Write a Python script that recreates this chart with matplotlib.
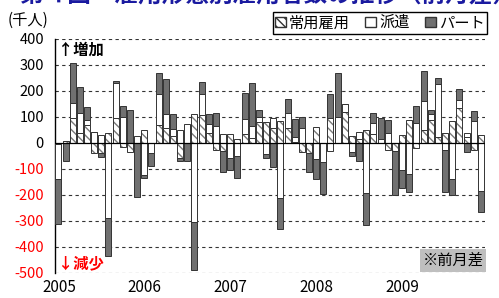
import numpy as np
import matplotlib
matplotlib.use('Agg')
import matplotlib.pyplot as plt
from matplotlib.patches import Patch

plt.rcParams['font.family'] = ['Noto Sans CJK JP', 'DejaVu Sans']

# monthly change (thousand persons), Jan 2005 .. Dec 2009
regular = [-5, 8, 95, 40, 68, -38, -40, 40, 95, -17, -35, 0,
           50, 0, 69, 56, 27, -58, 0, 112, 108, 37, -27, -30,
           35, 15, 35, 18, 80, 80, 56, 85, 59, 5, -33, -40,
           63, 0, 95, 0, 118, 27, 15, 50, 33, 0, -27, -31,
           31, 88, -20, 50, 87, 24, 40, 85, 133, 24, -27, 31]
dispatch = [-133, 0, 58, 75, 22, 42, 30, -290, 135, 99, 0, 27,
            -123, -40, 118, 56, 27, 50, 72, -305, 79, 35, 67, 35,
            -59, -49, 57, 49, 20, -44, 39, -213, 55, 17, 56, 0,
            -62, -72, -31, 101, 31, -36, 29, -191, 44, 15, 37, 0,
            -104, -120, 77, 113, 26, 202, -27, -138, 32, 13, 86, -185]
parttime = [-172, -70, 153, 100, 50, 0, -15, -145, 8, 45, 127, -206,
            -13, -47, 82, 135, 58, -10, -69, -183, 49, 40, 48, -83,
            -45, -84, 100, 162, 27, -12, -92, -119, 55, 69, 45, -73,
            -76, -125, 93, 168, 0, -13, -69, -124, 38, 80, 50, -169,
            -70, -70, 67, 114, 13, 25, -160, -62, 43, -36, 37, -79]

series_names = ['常用雇用', '派遣', 'パート']
years = ['2005', '2006', '2007', '2008', '2009']
yticks = [400, 300, 200, 100, 0, -100, -200, -300, -400, -500]

fig = plt.figure(figsize=(4.99, 2.98), dpi=100)
ax = fig.add_axes([55 / 499, 25 / 298, 430 / 499, 234 / 298])

x = np.arange(len(regular))
w = 0.84
pos_bottom = np.zeros(len(x))
neg_bottom = np.zeros(len(x))

for vals, kind in zip([regular, dispatch, parttime], ['hatch', 'white', 'dark']):
    v = np.asarray(vals, dtype=float)
    bottom = np.where(v >= 0, pos_bottom, neg_bottom)
    if kind == 'hatch':
        ax.bar(x, v, w, bottom=bottom, align='edge', color='white',
               edgecolor='#7a7a7a', hatch='\\\\\\\\', linewidth=0, zorder=2)
        ax.bar(x, v, w, bottom=bottom, align='edge', fill=False,
               edgecolor='#333333', linewidth=0.7, zorder=3)
    elif kind == 'white':
        ax.bar(x, v, w, bottom=bottom, align='edge', color='white',
               edgecolor='#333333', linewidth=0.7, zorder=3)
    else:
        ax.bar(x, v, w, bottom=bottom, align='edge', color='#707070',
               edgecolor='#333333', linewidth=0.7, zorder=3)
    pos_bottom = pos_bottom + np.where(v >= 0, v, 0)
    neg_bottom = neg_bottom + np.where(v < 0, v, 0)

ax.set_xlim(-0.05, 60)
ax.set_ylim(-500, 400)
ax.set_yticks(yticks)
ax.set_yticklabels([str(t) for t in yticks], fontsize=10.5)
for lab, t in zip(ax.get_yticklabels(), yticks):
    lab.set_color('red' if t < 0 else 'black')
ax.set_xticks([12 * i + 0.5 for i in range(len(years))])
ax.set_xticklabels(years, fontsize=11)
ax.tick_params(length=0)
ax.tick_params(axis='y', pad=8)
ax.tick_params(axis='x', pad=4)

for t in yticks:
    if t != 0:
        ax.axhline(t, color='#333333', linestyle=(0, (3, 3)), linewidth=0.8, zorder=1)
ax.axhline(0, color='black', linewidth=0.9, zorder=4)

for s in ['top', 'right', 'bottom']:
    ax.spines[s].set_visible(False)
ax.spines['left'].set_linewidth(1.0)

ax.text(0.3, 388, '↑増加', fontsize=11, fontweight='bold', va='top', ha='left')
ax.text(0.3, -492, '↓減少', fontsize=11, fontweight='bold', color='red',
        va='bottom', ha='left')
ax.text(59.8, -485, '※前月差', fontsize=11, ha='right', va='bottom',
        bbox=dict(facecolor='#bfbfbf', edgecolor='none', pad=2))

fig.text(8 / 499, 1 - 20 / 298, '(千人)', fontsize=11, va='center', ha='left')
# title is cut off at the top edge in the original
fig.text(20 / 499, 1 - 2 / 298, '第４図　雇用形態別雇用者数の推移（前月差）',
         fontsize=17, fontweight='bold', color='#1a1aa0', va='baseline', ha='left')

handles = [Patch(facecolor='white', edgecolor='#333333', hatch='\\\\\\\\'),
           Patch(facecolor='white', edgecolor='#333333'),
           Patch(facecolor='#707070', edgecolor='#333333')]
fig.legend(handles, series_names, loc='upper left',
           bbox_to_anchor=(273 / 499, 1 - 12 / 298), ncol=3, fontsize=11,
           frameon=True, fancybox=False, edgecolor='black', framealpha=1,
           borderpad=0.15, handlelength=0.7, handleheight=0.7,
           handletextpad=0.2, columnspacing=1.0, borderaxespad=0)

plt.savefig('out.png', dpi=100)
